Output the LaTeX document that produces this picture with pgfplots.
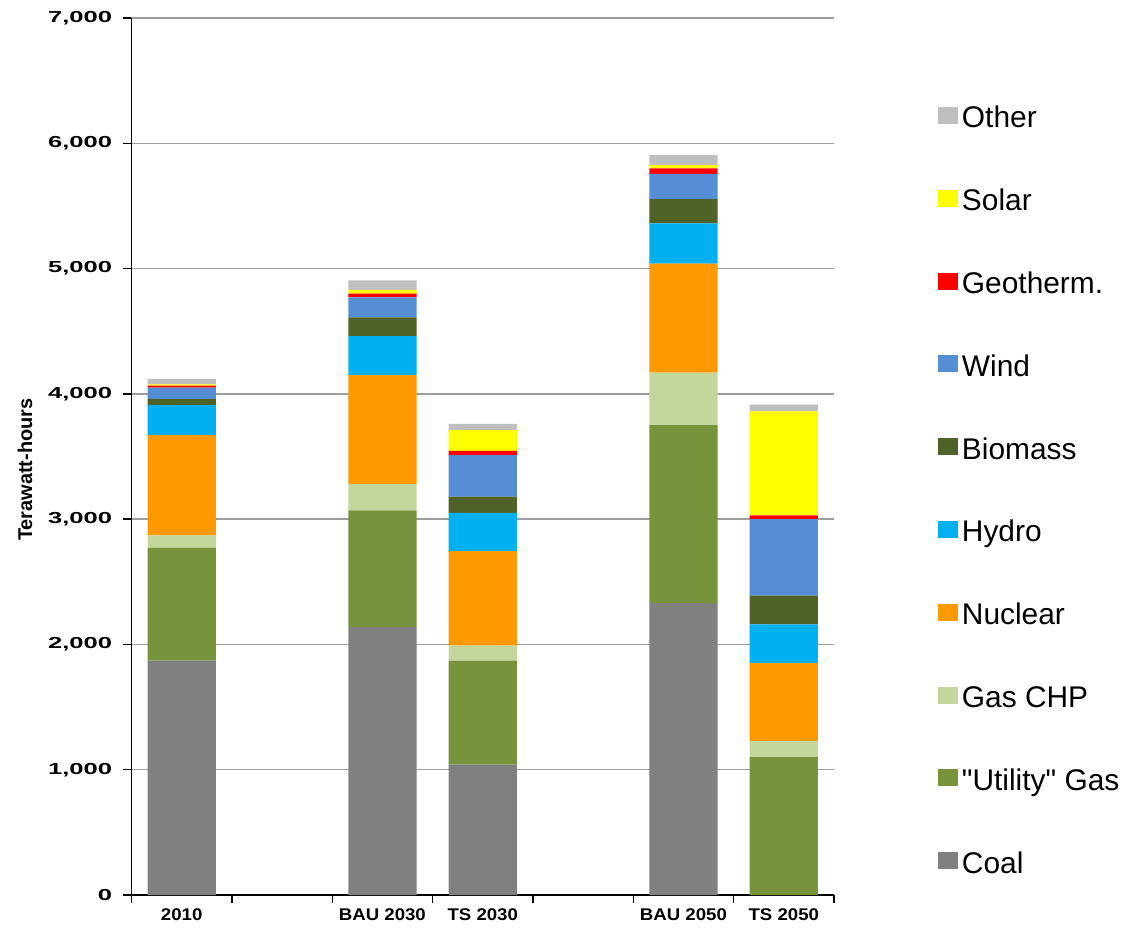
\documentclass[border=0pt]{standalone}
\usepackage{fontspec}
\setmainfont{Liberation Sans}
\newfontfamily\ytickfont[FakeStretch=1.6]{Liberation Sans}
\newfontfamily\xtickfont[FakeStretch=1.1]{Liberation Sans}
\newfontfamily\legfont[Ligatures=TeXOff]{Liberation Sans}
\usepackage{pgfplots}
\pgfplotsset{compat=1.18}

\definecolor{coal}{HTML}{808080}
\definecolor{ugas}{HTML}{77933C}
\definecolor{gaschp}{HTML}{C3D69B}
\definecolor{nuclear}{HTML}{FF9900}
\definecolor{hydro}{HTML}{00B0F0}
\definecolor{biomass}{HTML}{4F6228}
\definecolor{wind}{HTML}{558ED5}
\definecolor{geo}{HTML}{FF0000}
\definecolor{solar}{HTML}{FFFF00}
\definecolor{other}{HTML}{BFBFBF}

\begin{document}
\begin{tikzpicture}
\path[use as bounding box] (-131.5bp,-33bp) rectangle (998.5bp,895bp);
\begin{axis}[
  scale only axis, width=702.5bp, height=877bp,
  xmin=-0.5, xmax=6.5, ymin=0, ymax=7000,
  ybar stacked, bar width=0.68,
  every axis plot post/.append style={
    legend image code/.code={\path[##1] (0bp,-4bp) rectangle (20bp,13bp);}},
  axis x line*=bottom, axis y line*=left,
  axis line style={-, line width=1.6bp, black},
  tick align=outside,
  xtick={0,2,3,5,6},
  xticklabels={2010,BAU 2030,TS 2030,BAU 2050,TS 2050},
  major x tick style={draw=none},
  minor xtick={-0.5,0.5,1.5,2.5,3.5,4.5,5.5,6.5},
  minor tick length=8bp,
  minor x tick style={line width=1.4bp, black},
  ytick={0,1000,...,7000},
  major tick length=8bp,
  major y tick style={line width=1.4bp, black},
  ymajorgrids, grid style={line width=1.5bp, black!38},
  scaled y ticks=false,
  /pgf/number format/assume math mode=true,
  /pgf/number format/1000 sep={,},
  yticklabel style={font=\ytickfont\bfseries\fontsize{16}{17}\selectfont, xshift=-8bp},
  xticklabel style={font=\xtickfont\bfseries\fontsize{17}{18}\selectfont, yshift=-2bp},
  ylabel={Terawatt-hours},
  ylabel style={font=\bfseries\fontsize{20}{20}\selectfont,
    at={(axis description cs:-0.1516,0.485)}, anchor=center},
  reverse legend,
  legend cell align=left,
  legend style={draw=none, fill=none,
    at={(axis description cs:1.148,0.8997)}, anchor=north west,
    inner sep=0pt, outer sep=0pt, row sep=54.8bp,
    /tikz/every odd column/.append style={column sep=4bp},
    nodes={inner sep=0pt, text height=22bp, text depth=6bp,
      font=\legfont\fontsize{30}{30}\selectfont}},
]
\addplot[fill=coal, draw=none] coordinates {(0,1870) (2,2140) (3,1040) (5,2330) (6,0)};
\addlegendentry{Coal}
\addplot[fill=ugas, draw=none] coordinates {(0,900) (2,930) (3,830) (5,1420) (6,1100)};
\addlegendentry{"Utility" Gas}
\addplot[fill=gaschp, draw=none] coordinates {(0,100) (2,210) (3,120) (5,420) (6,130)};
\addlegendentry{Gas CHP}
\addplot[fill=nuclear, draw=none] coordinates {(0,800) (2,870) (3,755) (5,870) (6,620)};
\addlegendentry{Nuclear}
\addplot[fill=hydro, draw=none] coordinates {(0,240) (2,310) (3,305) (5,320) (6,310)};
\addlegendentry{Hydro}
\addplot[fill=biomass, draw=none] coordinates {(0,50) (2,150) (3,130) (5,195) (6,230)};
\addlegendentry{Biomass}
\addplot[fill=wind, draw=none] coordinates {(0,90) (2,160) (3,330) (5,200) (6,610)};
\addlegendentry{Wind}
\addplot[fill=geo, draw=none] coordinates {(0,15) (2,30) (3,35) (5,45) (6,30)};
\addlegendentry{Geotherm.}
\addplot[fill=solar, draw=none] coordinates {(0,10) (2,30) (3,165) (5,25) (6,830)};
\addlegendentry{Solar}
\addplot[fill=other, draw=none] coordinates {(0,45) (2,75) (3,50) (5,80) (6,55)};
\addlegendentry{Other}
\end{axis}
\end{tikzpicture}
\end{document}
